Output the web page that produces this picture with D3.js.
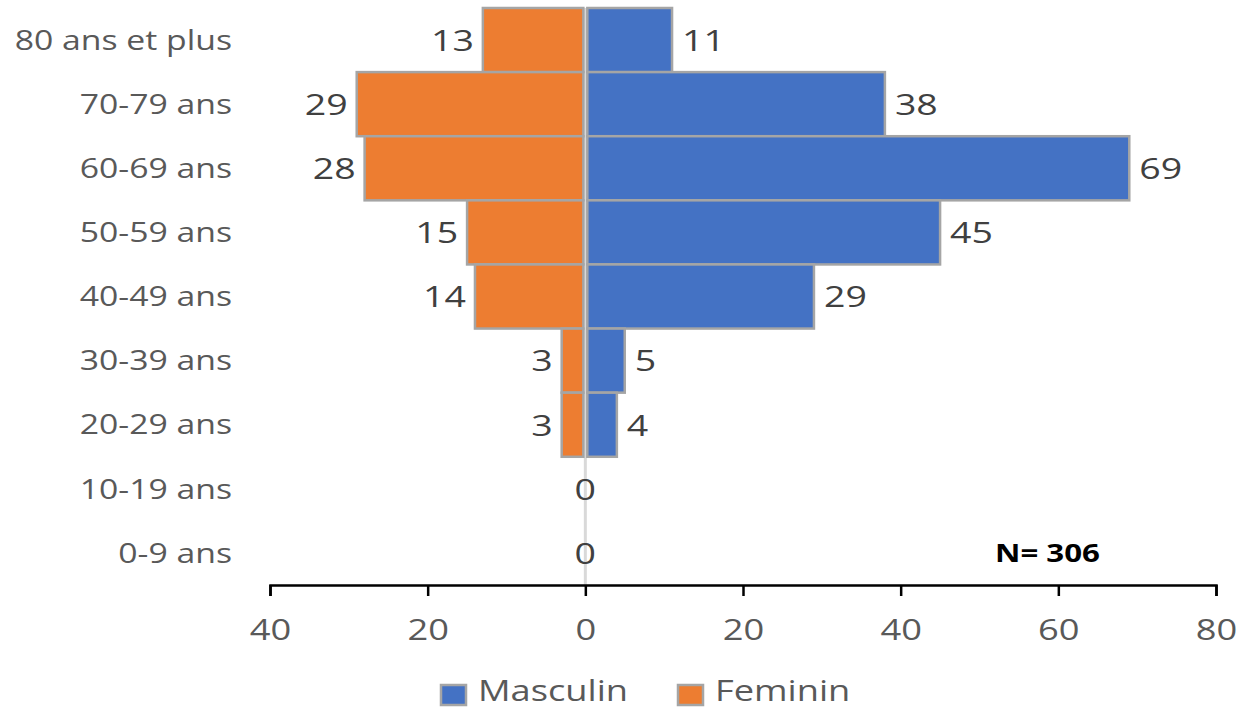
<!DOCTYPE html>
<html>
<head>
<meta charset="utf-8">
<script src="https://cdn.jsdelivr.net/npm/d3@7"></script>
<style>
  body { margin: 0; background: #fff; }
  svg { display: block; font-family: "Open Sans", sans-serif; }
</style>
</head>
<body>
<svg id="chart" width="1248" height="711"></svg>
<script>
const ageGroups = ["80 ans et plus", "70-79 ans", "60-69 ans", "50-59 ans", "40-49 ans",
  "30-39 ans", "20-29 ans", "10-19 ans", "0-9 ans"];
const masculin = [11, 38, 69, 45, 29, 5, 4, 0, 0];
const feminin = [13, 29, 28, 15, 14, 3, 3, 0, 0];
const xTicks = [-40, -20, 0, 20, 40, 60, 80];
const total = 306;

const blue = "#4472c4";
const orange = "#ed7d31";
const edge = "#a5a5a5";
const stretch = 1.25; // the source text is drawn wide

const svg = d3.select("#chart");

const x = d3.scaleLinear().domain([-40, 80]).range([270, 1216]);
const y = d3.scaleBand().domain(ageGroups).range([8, 585]).padding(0);

// place a text with a horizontal stretch
function put(sel, px, py) {
  sel.attr("transform", (d, i) =>
    `translate(${typeof px === "function" ? px(d, i) : px},${typeof py === "function" ? py(d, i) : py}) scale(${stretch},1)`);
  return sel;
}

// vertical zero line
svg.append("line")
  .attr("x1", x(0)).attr("x2", x(0))
  .attr("y1", 8).attr("y2", 585)
  .attr("stroke", "#d9d9d9").attr("stroke-width", 3);

const rows = ageGroups.map((g, i) => ({ g, m: masculin[i], f: feminin[i] }));

// Feminin bars (left)
svg.append("g").selectAll("rect")
  .data(rows.filter(d => d.f > 0))
  .join("rect")
  .attr("x", d => x(-d.f))
  .attr("y", d => y(d.g))
  .attr("width", d => x(0) - x(-d.f) - 2)
  .attr("height", y.bandwidth())
  .attr("fill", orange)
  .attr("stroke", edge).attr("stroke-width", 2.5);

// Masculin bars (right)
svg.append("g").selectAll("rect")
  .data(rows.filter(d => d.m > 0))
  .join("rect")
  .attr("x", x(0) + 2)
  .attr("y", d => y(d.g))
  .attr("width", d => x(d.m) - x(0) - 2)
  .attr("height", y.bandwidth())
  .attr("fill", blue)
  .attr("stroke", edge).attr("stroke-width", 2.5);

// data labels
const labels = svg.append("g")
  .attr("font-size", 30).attr("fill", "#404040");

labels.selectAll("text.f")
  .data(rows)
  .join("text")
  .attr("class", "f")
  .attr("dy", "0.36em")
  .attr("text-anchor", d => d.f === 0 ? "middle" : "end")
  .text(d => d.f)
  .call(put, d => d.f === 0 ? x(0) : x(-d.f) - 9, d => y(d.g) + y.bandwidth() / 2);

labels.selectAll("text.m")
  .data(rows.filter(d => d.m > 0))
  .join("text")
  .attr("class", "m")
  .attr("dy", "0.36em")
  .attr("text-anchor", "start")
  .text(d => d.m)
  .call(put, d => x(d.m) + 10, d => y(d.g) + y.bandwidth() / 2);

// category axis labels
svg.append("g").selectAll("text")
  .data(ageGroups)
  .join("text")
  .attr("dy", "0.36em")
  .attr("text-anchor", "end")
  .attr("font-size", 27)
  .attr("fill", "#595959")
  .text(d => d)
  .call(put, 232, d => y(d) + y.bandwidth() / 2);

// bottom axis
const xAxis = svg.append("g")
  .attr("transform", "translate(0,585)")
  .call(d3.axisBottom(x).tickValues(xTicks).tickSize(11).tickPadding(14)
    .tickFormat(d => Math.abs(d)));
xAxis.select(".domain").attr("stroke", "#000").attr("stroke-width", 2.5);
xAxis.selectAll(".tick line").attr("stroke", "#000").attr("stroke-width", 2.5);
xAxis.selectAll(".tick text")
  .attr("font-size", 29).attr("font-family", "Open Sans, sans-serif").attr("fill", "#595959")
  .attr("y", null).attr("dy", "0.36em")
  .call(put, 0, 45);

// N label
svg.append("text")
  .attr("dy", "0.36em")
  .attr("font-size", 25).attr("font-weight", "bold").attr("fill", "#000")
  .text("N= " + total)
  .call(put, 995, 553);

// legend
const legend = svg.append("g");
const items = [{ name: "Masculin", color: blue, x: 441 }, { name: "Feminin", color: orange, x: 678 }];
items.forEach(it => {
  legend.append("rect")
    .attr("x", it.x).attr("y", 685).attr("width", 25).attr("height", 20)
    .attr("fill", it.color).attr("stroke", edge).attr("stroke-width", 2.5);
  legend.append("text")
    .attr("dy", "0.36em")
    .attr("font-size", 29).attr("fill", "#595959")
    .text(it.name)
    .call(put, it.x + 37, 691);
});
</script>
</body>
</html>
